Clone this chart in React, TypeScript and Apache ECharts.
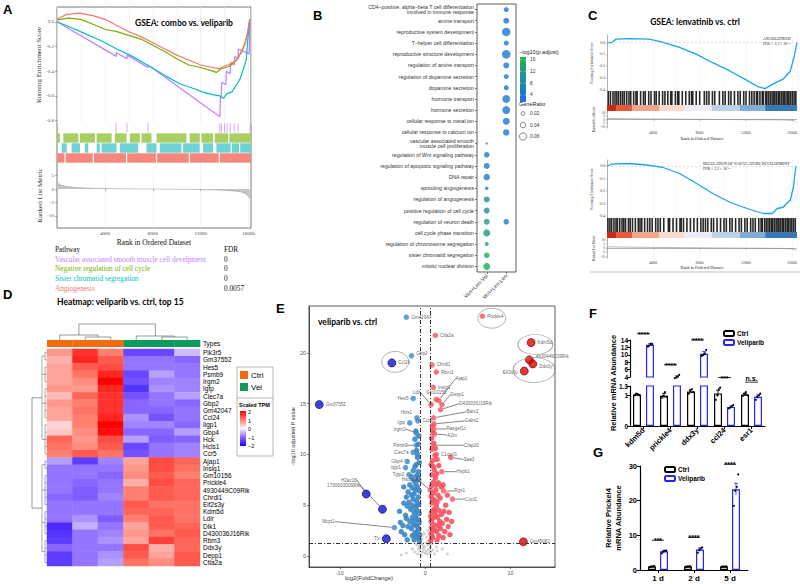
import React, { useEffect, useRef } from "react";
import * as echarts from "echarts";

const SERIF = '"Liberation Serif", "Times New Roman", serif';
const SANS = '"Liberation Sans", Arial, sans-serif';
const HEAD = 'Lato, "Liberation Sans", sans-serif';

// ---------------- Panel A : GSEA combo vs veliparib ----------------
const aPathways = [
  "Vascular associated smooth muscle cell develpment",
  "Negative regulation of cell cycle",
  "Sister chromatid segregation",
  "Angiogenesis",
];
const aFdr = ["0", "0", "0", "0.0057"];
const aCurvePurple = [
  [0, 0], [4950, -0.28], [4960, -0.25], [5850, -0.3], [5860, -0.27], [7600, -0.37], [7610, -0.35],
  [13600, -0.77], [13650, -0.6], [13700, -0.62], [13750, -0.49], [14100, -0.51], [14150, -0.4],
  [14450, -0.42], [14500, -0.33], [14800, -0.35], [14850, -0.28], [15100, -0.3], [15150, -0.22],
  [16050, -0.26], [16100, 0.0],
];
const aCurveGreen = [
  [0, 0.015], [1000, 0.03], [2000, 0.02], [3000, -0.02], [4000, -0.06], [5000, -0.08], [6000, -0.11],
  [7000, -0.14], [8000, -0.19], [9000, -0.24], [10000, -0.3], [11000, -0.35], [12000, -0.37],
  [13000, -0.4], [13300, -0.41], [13700, -0.38], [14400, -0.36], [15000, -0.31], [15500, -0.22],
  [15800, -0.14], [16000, -0.05], [16100, 0.02],
];
const aCurveCyan = [
  [0, 0], [1000, -0.04], [2200, -0.09], [3600, -0.15], [5000, -0.22], [6300, -0.28], [7700, -0.36],
  [9100, -0.44], [10200, -0.5], [11400, -0.54], [12200, -0.57], [13000, -0.59], [13600, -0.6],
  [13900, -0.62], [14200, -0.58], [14600, -0.57], [15000, -0.51], [15300, -0.46], [15500, -0.4],
  [15800, -0.31], [15950, -0.12], [16100, 0.02],
];
const aCurveRed = [
  [0, 0.02], [800, 0.06], [1900, 0.07], [3000, 0.05], [4000, 0.02], [5000, -0.03], [6000, -0.08],
  [7000, -0.12], [8000, -0.17], [9000, -0.22], [10000, -0.27], [11000, -0.31], [12000, -0.35],
  [13000, -0.37], [13500, -0.38], [14000, -0.36], [14500, -0.34], [15000, -0.31], [15400, -0.25],
  [15700, -0.18], [15900, -0.09], [16100, 0.02],
];
const aHitsPurple = [
  [4880, 4960], [5800, 5880], [7560, 7640], [13560, 13640], [13680, 13760], [13950, 14030],
  [14150, 14230], [14420, 14500], [14760, 14840], [15080, 15160], [16080, 16160],
];
const aHitsGreen = [
  [0, 250], [530, 1780], [1920, 3170], [3310, 4560], [4830, 5810], [6080, 6920], [7060, 7890],
  [8310, 10810], [11080, 11920], [12060, 13030], [13170, 14300], [14400, 16200],
];
const aHitsCyan = [
  [390, 810], [1220, 1920], [2330, 2610], [3310, 3580], [3720, 4970], [5250, 6780], [7470, 8310],
  [8580, 10390], [10530, 11920], [12200, 13030], [13310, 14500], [14600, 15200], [15300, 16200],
];
const aHitsRed = [
  [0, 620], [720, 2980], [3080, 5760], [5860, 8260], [8360, 11000], [11100, 13500], [13600, 16200],
];
const aMetric = [
  [0, 3], [100, 2.2], [300, 1.5], [700, 1.0], [1500, 0.6], [3000, 0.3], [5000, 0.1], [8000, 0],
  [11000, -0.1], [13000, -0.3], [14500, -0.6], [15300, -1.0], [15800, -1.8], [16100, -3.5],
];

// ---------------- Panel C : GSEA lenvatinib vs ctrl ----------------
const cAngioES = [
  [0, 0.0], [400, 0.0], [780, 0.03], [1900, 0.035], [3650, 0.03], [4780, 0.005], [6260, -0.04],
  [7740, -0.1], [9130, -0.17], [10600, -0.24], [12090, -0.32], [12960, -0.37], [13650, -0.39],
  [14350, -0.35], [15200, -0.31], [15830, -0.24], [16170, -0.11], [16400, 0.0],
];
const cVascES = [
  [0, 0.0], [430, 0.015], [1900, 0.02], [3200, 0.01], [4780, -0.01], [6260, -0.06], [7740, -0.14],
  [9130, -0.22], [10600, -0.29], [12090, -0.34], [13480, -0.38], [14260, -0.38], [14700, -0.34],
  [15200, -0.33], [15830, -0.27], [16090, -0.17], [16300, 0.0],
];
const cAngioHits = [
  120, 300, 520, 690, 850, 1000, 1180, 1350, 1500, 1700, 1900, 2050, 2300, 2500, 2600, 2900, 3150,
  3300, 3600, 3800, 4100, 4250, 4500, 4800, 5000, 5250, 5500, 5600, 5900, 6100, 6200, 6500, 6800,
  7100, 7300, 7400, 7700, 8000, 8400, 8600, 8800, 9100, 9300, 9700, 10000, 10200, 10500, 10700,
  11000, 11300, 11500, 11800, 12000, 12300, 12500, 12700, 12900, 13000, 13200, 13400, 13500, 13700,
  13800, 13950, 14100, 14250, 14400, 14500, 14650, 14800, 14900, 15050, 15200, 15300, 15450, 15600,
  15700, 15850, 16000, 16150, 16300,
];
const cVascHits = [
  80, 250, 400, 600, 780, 900, 1100, 1300, 1450, 1600, 1850, 2000, 2200, 2450, 2700, 2850, 3000,
  3250, 3500, 3700, 3900, 4200, 4400, 4600, 4900, 5300, 5400, 5700, 6000, 6300, 6400, 6600, 6900,
  7200, 7500, 7800, 8100, 8300, 8500, 8700, 9000, 9200, 9500, 9800, 10100, 10300, 10600, 10800,
  11100, 11400, 11600, 11900, 12100, 12400, 12600, 12800, 13100, 13300, 13400, 13600, 13750, 13900,
  14050, 14200, 14300, 14450, 14600, 14750, 14850, 15000, 15150, 15250, 15400, 15550, 15650, 15800,
  15950, 16100, 16250,
];
const cBandStops = [0, 780, 2170, 4520, 6700, 9040, 11480, 13650, 16400];
const cMetric = [
  [0, 1.5], [2000, 1.0], [4000, 0.7], [8000, 0.2], [12000, -0.2], [15000, -0.5], [16000, -1.0], [16300, -3],
];

// ---------------- Panel B : GO dot plot ----------------
const bTerms = [
  "CD4\u2212positive, alpha\u2212beta T cell differentiation\ninvolved in immune response",
  "amine transport", "reproductive system development", "T\u2212helper cell differentiation",
  "reproductive structure development", "regulation of amine transport",
  "regulation of dopamine secretion", "dopamine secretion", "hormone transport", "hormone secretion",
  "cellular response to metal ion", "cellular response to calcium ion",
  "vascular associated smooth\nmuscle cell proliferation", "regulation of Wnt signaling pathway",
  "regulation of apoptotic signaling pathway", "DNA repair", "sprouting angiogenesis",
  "regulation of angiogenesis", "positive regulation of cell cycle", "regulation of neuron death",
  "cell cycle phase transition", "regulation of chromosome segregation",
  "sister chromatid segregation", "mitotic nuclear division",
];
const bGroups = ["Ven+Len-Vel", "Ven+Len-Len"];
const bVelRatio = [null, null, null, null, null, null, null, null, null, null, null, null,
  0.003, 0.04, 0.045, 0.051, 0.017, 0.045, 0.045, 0.045, 0.057, 0.023, 0.04, 0.057];
const bVelLogP = [null, null, null, null, null, null, null, null, null, null, null, null,
  4, 4.5, 4.8, 5, 6, 9, 9.5, 10, 10.5, 14, 15, 15.5];
const bLenRatio = [0.034, 0.045, 0.074, 0.034, 0.074, 0.045, 0.034, 0.034, 0.068, 0.068, 0.057, 0.051,
  null, null, null, null, null, null, null, 0.04, null, null, null, null];
const bLenLogP = [3.5, 3.6, 3.8, 3.5, 3.8, 3.4, 3.3, 3.3, 4, 4, 3.7, 3.6,
  null, null, null, null, null, null, null, 3.5, null, null, null, null];
const bColorTicks = [16, 12, 8, 4];
const bRatioTicks = [0.02, 0.04, 0.06];

// ---------------- Panel D : heatmap ----------------
const dSamples = ["Ctrl1", "Ctrl2", "Ctrl3", "Vel1", "Vel2", "Vel3"];
const dTypes = ["Ctrl", "Ctrl", "Ctrl", "Vel", "Vel", "Vel"];
const dGenes = [
  "Pik3r5", "Gm37552", "Hes5", "Psmb9", "Irgm2", "Igtp", "Clec7a", "Gbp2", "Gm42047", "Ccl24",
  "Iigp1", "Gbp4", "Hck", "Hcls1", "Ccr5", "Ajap1", "Insig1", "Gm10156", "Prickle4",
  "4930449C09Rik", "Chrdl1", "Eif2s3y", "Kdm5d", "Ldlr", "Dlk1", "D430036J16Rik", "Rbm3", "Ddx3y",
  "Depp1", "Ctla2a",
];
const dValues = [
  [0.8, 1.6, 1.0, -1.3, -1.3, -0.4],
  [0.6, 1.7, 1.3, -0.9, -0.9, -1.0],
  [0.7, 1.3, 1.4, -0.9, -0.9, -0.9],
  [0.7, 1.1, 1.7, -1.3, -0.6, -0.9],
  [0.7, 0.9, 2.0, -1.2, -0.8, -0.8],
  [0.8, 0.8, 1.7, -1.5, -0.7, -0.8],
  [0.5, 1.2, 1.6, -1.2, -0.9, -0.6],
  [0.8, 1.0, 1.6, -1.0, -0.9, -1.0],
  [0.7, 1.1, 1.6, -1.0, -1.0, -0.9],
  [0.7, 1.0, 1.7, -0.7, -1.2, -0.9],
  [0.3, 1.0, 2.0, -0.8, -0.8, -1.0],
  [0.4, 0.9, 1.9, -1.0, -1.0, -0.6],
  [1.2, 0.8, 1.4, -0.6, -1.1, -1.0],
  [1.1, 0.9, 1.3, -1.3, -0.9, -0.8],
  [1.0, 1.3, 1.1, -1.2, -0.9, -0.8],
  [-0.6, -1.4, -0.8, 0.7, 1.4, 1.2],
  [-0.9, -0.9, -0.9, 0.8, 1.4, 1.1],
  [-0.9, -0.9, -1.0, 0.9, 1.3, 1.0],
  [-0.9, -1.0, -0.9, 0.6, 1.4, 1.2],
  [-0.9, -1.1, -0.9, 1.0, 1.3, 1.2],
  [-1.0, -1.1, -0.8, 1.0, 1.3, 1.2],
  [-0.9, -0.9, -0.9, 1.3, 1.1, 1.1],
  [-0.9, -0.9, -0.9, 1.2, 1.2, 1.1],
  [-0.9, -0.7, -1.1, 1.0, 1.3, 1.1],
  [-1.6, -0.5, -0.9, 0.7, 1.3, 1.2],
  [-1.5, -0.9, -0.8, 0.8, 1.1, 1.3],
  [-1.4, -0.9, -0.7, 0.7, 1.5, 1.2],
  [-1.0, -0.9, -0.9, 1.4, 0.6, 1.2],
  [-1.4, -0.9, -0.7, 1.3, 0.7, 1.3],
  [-1.4, -0.9, -0.6, 1.1, 0.9, 1.3],
];
const dRowGroups = [[0, 1], [2, 3, 4], [5, 6, 7, 8, 9], [10, 11, 12, 13, 14],
  [15, 16], [17, 18, 19, 20, 21], [22, 23, 24, 25], [26, 27, 28, 29]];
const dScaleTicks = ["2", "1", "0", "\u22121", "\u22122"];

// ---------------- Panel E : volcano ----------------
const eNamed: [string, number, number, string][] = [
  ["Gm42047", -2.2, 23.5, "down"], ["Prickle4", 6.7, 23.6, "up"], ["Ctla2a", 1.2, 21.7, "up"],
  ["Gbp2", -1.6, 19.7, "down"], ["Ccl24", -3.9, 19.0, "downTop"], ["Chrdl1", 0.8, 18.8, "up"],
  ["Rbm3", 1.3, 18.1, "up"], ["Insig1", 0.95, 16.6, "up"], ["Ajap1", 1.6, 15.3, "up"],
  ["Gm10156", 1.3, 15.4, "up"], ["Ldlr", 0.7, 14.9, "up"], ["Depp1", 1.95, 14.9, "up"],
  ["D430036J16Rik", 1.8, 14.4, "up"], ["Gm37552", -12.4, 14.9, "downTop"], ["Hes5", -1.4, 15.5, "down"],
  ["Hcls1", -0.97, 13.6, "down"], ["Ccr5", -0.86, 13.3, "down"], ["Igtp", -1.8, 13.1, "down"],
  ["Barx2", 1.0, 13.6, "up"], ["Galnt2", 1.05, 13.0, "up"], ["Rasgef1c", 1.0, 12.5, "up"],
  ["A2m", 1.1, 12.0, "up"], ["Irgm2", -1.05, 12.1, "down"], ["Psmb9", -1.05, 10.9, "down"],
  ["Cfap20", 0.95, 10.9, "up"], ["C1qtnf1", 1.3, 10.0, "up"], ["Clec7a", -1.4, 10.2, "down"],
  ["Saa3", 3.0, 9.7, "up"], ["Gbp4", -2.1, 9.3, "down"], ["Iigp1", -2.3, 8.7, "down"],
  ["Hspb1", 1.95, 8.3, "up"], ["Tgtp2", -1.9, 8.0, "down"], ["Hspa1a", 0.6, 6.5, "up"],
  ["Rgs1", 2.15, 6.4, "up"], ["Cxcl2", 3.2, 5.6, "up"], ["H2ac18", -6.9, 6.1, "downTop"],
  ["1700003D09Rik", -5.0, 4.6, "downTop"], ["Mcpt1", -3.6, 2.8, "down"], ["Tlx", -4.55, 1.7, "downTop"],
  ["Kdm5d", 12.4, 21.0, "upTop"], ["4930449C09Rik", 12.2, 19.3, "upTop"], ["Ddx3y", 12.6, 18.9, "upTop"],
  ["Eif2s3y", 11.6, 18.2, "upTop"], ["Gm45062", 11.5, 1.4, "upTop"],
];
const eDownCloud = [
  [-0.7, 1.5], [-0.8, 1.8], [-0.65, 2.1], [-0.9, 2.4], [-0.75, 2.7], [-1.0, 3.0], [-0.7, 3.3], [-0.85, 3.6],
  [-1.1, 3.9], [-0.7, 4.2], [-0.95, 4.5], [-1.2, 4.8], [-0.75, 5.1], [-1.0, 5.4], [-0.8, 5.8], [-1.3, 6.1],
  [-0.7, 6.4], [-0.9, 6.8], [-1.1, 7.1], [-0.75, 7.5], [-1.0, 7.9], [-0.8, 8.3], [-1.2, 8.8], [-0.7, 9.2],
  [-0.9, 9.7], [-1.0, 10.4], [-0.8, 11.0], [-0.75, 11.8], [-1.3, 1.6], [-1.5, 2.0], [-1.2, 2.3], [-1.6, 2.7],
  [-1.4, 3.1], [-1.8, 3.4], [-1.5, 3.8], [-1.3, 4.3], [-1.7, 4.6], [-1.5, 5.0], [-1.9, 5.3], [-1.4, 5.6],
  [-1.6, 6.0], [-2.0, 6.3], [-1.5, 6.7], [-1.8, 7.0], [-1.3, 7.4], [-1.6, 7.8], [-1.4, 8.4], [-2.1, 1.6],
  [-2.4, 2.1], [-2.0, 2.9], [-2.6, 3.0], [-2.2, 3.7], [-2.3, 4.0], [-2.1, 4.9], [-2.5, 5.2], [-2.2, 5.8],
  [-2.5, 6.8], [-2.8, 2.4], [-2.9, 3.3], [-3.0, 4.4], [-1.1, 1.9], [-0.95, 2.9], [-1.25, 3.5], [-0.9, 5.0],
  [-1.15, 6.5], [-0.85, 7.8], [-1.05, 9.0], [-0.9, 10.0], [-1.2, 11.5], [-1.1, 12.3],
];
const eUpCloud = [
  [0.65, 1.5], [0.8, 1.8], [0.7, 2.2], [0.95, 2.5], [0.75, 2.8], [1.05, 3.1], [0.7, 3.4], [0.9, 3.7],
  [1.2, 4.0], [0.75, 4.3], [1.0, 4.6], [1.3, 4.9], [0.8, 5.2], [1.1, 5.5], [0.7, 5.9], [0.95, 6.2],
  [1.25, 6.5], [0.75, 6.9], [1.0, 7.3], [1.2, 7.7], [0.8, 8.0], [1.05, 8.5], [0.7, 9.0], [0.9, 9.4],
  [1.15, 9.9], [0.8, 10.5], [1.0, 11.1], [0.75, 11.6], [0.9, 12.2], [0.85, 12.8], [1.4, 1.6], [1.6, 2.0],
  [1.35, 2.4], [1.8, 2.7], [1.5, 3.0], [1.7, 3.4], [1.45, 3.8], [1.9, 4.1], [1.6, 4.5], [1.4, 5.3],
  [1.75, 5.7], [1.5, 6.0], [1.9, 6.8], [1.55, 7.2], [1.35, 8.1], [1.6, 8.9], [1.4, 9.5], [2.1, 1.8],
  [2.3, 2.4], [2.0, 3.2], [2.5, 3.6], [2.2, 4.4], [2.7, 2.9], [2.4, 5.0], [2.8, 4.3], [2.1, 7.0],
  [2.6, 6.0], [3.1, 3.4], [2.9, 2.1], [0.85, 1.9], [1.1, 2.6], [0.65, 3.9], [1.15, 4.4], [0.85, 5.6],
  [1.3, 7.0], [0.95, 8.8], [1.2, 10.6],
];
const eNsCloud = [
  [-0.5, 0.1], [-0.3, 0.4], [0.2, 0.2], [0.4, 0.6], [-0.1, 0.9], [0.3, 1.1], [-0.4, 1.2], [0.1, 0.5],
  [-0.2, 0.7], [0.5, 0.3], [-0.6, 0.5], [0.6, 0.8], [0.0, 0.3], [-0.7, 0.9], [0.7, 0.4], [-0.9, 0.2],
  [0.9, 0.6], [-1.2, 0.4], [1.1, 0.2], [-1.5, 0.7], [1.4, 0.5], [-2.2, 0.3], [2.0, 0.7], [-2.8, 0.1],
  [2.6, 0.2], [0.2, 1.3], [-0.2, 1.0], [-0.5, 1.4], [0.45, 1.5], [-0.35, 1.7], [0.15, 1.9], [-0.1, 2.2],
  [0.3, 2.5], [-0.4, 2.0], [0.5, 1.2], [-0.6, 1.1], [1.3, 0.9], [-1.0, 1.1], [0.8, 1.2], [-0.8, 0.7],
];
const eCircles = [[7.8, 23.4], [-3.5, 19.1], [12.9, 20.8], [12.75, 18.3]];
const eThresholds = { fc: 0.585, p: 1.3 };

// ---------------- Panel F / G : qPCR ----------------
const fGenes = ["kdm5d", "prickle4", "ddx3y", "ccl24", "esr1"];
const fCtrlMean = [1.02, 0.98, 1.12, 1.06, 1.02];
const fCtrlSem = [0.03, 0.08, 0.06, 0.1, 0.04];
const fVelMean = [12.7, 4.0, 10.3, 0.62, 0.95];
const fVelSem = [0.3, 0.35, 0.6, 0.03, 0.06];
const fCtrlReps = [[1.0, 1.05, 1.02, 1.0], [0.92, 0.98, 1.1, 0.95], [1.05, 1.15, 1.2, 1.1], [0.85, 1.0, 1.2, 1.25], [0.98, 1.05, 1.1, 1.0]];
const fVelReps = [[12.2, 12.5, 13.0, 12.9], [3.7, 3.9, 4.1, 4.6], [9.7, 10.0, 10.4, 11.3], [0.57, 0.6, 0.65, 0.68], [0.85, 0.95, 1.0, 1.05]];
const fSig = ["****", "****", "****", "***", "n.s."];

const gDays = ["1 d", "2 d", "5 d"];
const gCtrlMean = [1.0, 1.0, 1.0];
const gCtrlSem = [0.1, 0.08, 0.05];
const gVelMean = [5.4, 5.9, 23.3];
const gVelSem = [0.3, 0.5, 1.7];
const gCtrlReps = [[0.9, 1.0, 1.05, 1.1], [0.95, 1.0, 1.05, 1.05], [0.95, 1.0, 1.0, 1.05]];
const gVelReps = [[4.8, 5.3, 5.5, 5.6], [5.0, 5.8, 6.2, 6.5], [18.5, 22.8, 24.0, 27.6]];
const gSig = ["***", "****", "****"];

// ------------------------------------------------------------------
function buildOption() {
  const grid: any[] = [];
  const xAxis: any[] = [];
  const yAxis: any[] = [];
  const series: any[] = [];
  const graphic: any[] = [];
  const add = (g: any, x: any, y: any) => {
    grid.push(g);
    const i = grid.length - 1;
    xAxis.push({ gridIndex: i, ...x });
    yAxis.push({ gridIndex: i, ...y });
    return i;
  };
  const plain = (v: number) => String(v);
  const off = { axisLine: { show: false }, axisTick: { show: false }, axisLabel: { show: false }, splitLine: { show: false } };
  const txt = (text: string, x: number, y: number, font: string, fill = "#000", align = "left", vAlign = "middle", extra: any = {}) => ({
    type: "text", x, y, silent: true,
    style: { text, font, fill, align, textAlign: align, verticalAlign: vAlign, textVerticalAlign: vAlign },
    ...extra,
  });
  const line = (x1: number, y1: number, x2: number, y2: number, stroke = "#444", lw = 0.7) => ({
    type: "line", silent: true, shape: { x1, y1, x2, y2 }, style: { stroke, lineWidth: lw },
  });
  const poly = (points: number[][], stroke = "#444", lw = 0.7) => ({
    type: "polyline", silent: true, shape: { points }, style: { stroke, fill: "none", lineWidth: lw },
  });

  // ===== Panel A =====
  const aColors = ["#c77cff", "#7cae00", "#00bfc4", "#f8766d"];
  const aHitColors = ["#d9a6ff", "#a9cf62", "#6fd3d6", "#f7877d"];
  const esTicks = [0, -0.2, -0.4, -0.6, -0.8];
  const gA0 = add({ left: 57, top: 7, width: 194, height: 116 },
    { type: "value", min: 0, max: 16200, interval: 2000, ...off, splitLine: { show: true, lineStyle: { color: "#ececec", width: 0.6 } } },
    {
      type: "value", min: -0.82, max: 0.12, axisLine: { show: false }, splitLine: { show: false },
      axisTick: { show: true, length: 2, customValues: esTicks, lineStyle: { color: "#555", width: 0.5 } },
      axisLabel: { customValues: esTicks, formatter: (v: number) => v.toFixed(1), fontSize: 5, fontFamily: SERIF, color: "#555", margin: 3 },
      name: "Running Enrichment Score", nameLocation: "middle", nameGap: 14,
      nameTextStyle: { fontFamily: SERIF, fontSize: 7, color: "#333" },
    });
  [aCurvePurple, aCurveGreen, aCurveCyan, aCurveRed].forEach((d, i) => series.push({
    type: "line", xAxisIndex: gA0, yAxisIndex: gA0, data: d, showSymbol: false, z: 3,
    lineStyle: { color: aColors[i], width: 1.2 },
  }));
  const gA1 = add({ left: 57, top: 123, width: 194, height: 40 },
    { type: "value", min: 0, max: 16200, ...off },
    { type: "category", data: ["p", "g", "c", "r"], inverse: true, ...off });
  const aHitData: number[][] = [];
  [aHitsPurple, aHitsGreen, aHitsCyan, aHitsRed].forEach((runs, r) => runs.forEach(([s, e]) => aHitData.push([r, s, e])));
  series.push({
    type: "custom", xAxisIndex: gA1, yAxisIndex: gA1, data: aHitData, encode: { x: [1, 2], y: 0 },
    renderItem: (p: any, api: any) => {
      const r = api.value(0);
      const p0 = api.coord([api.value(1), r]);
      const p1 = api.coord([api.value(2), r]);
      const h = api.size([0, 1])[1];
      return { type: "rect", shape: { x: p0[0], y: p0[1] - h / 2 + 0.3, width: Math.max(1, p1[0] - p0[0]), height: h - 0.6 }, style: { fill: aHitColors[r] } };
    },
  });
  const rankTicks = [4000, 8000, 12000, 16000];
  const metTicks = [5, 0, -5, -10];
  const gA2 = add({ left: 57, top: 163, width: 194, height: 65 },
    {
      type: "value", min: 0, max: 16200, interval: 2000, axisLine: { show: false },
      axisTick: { show: true, length: 2, customValues: rankTicks, lineStyle: { color: "#555", width: 0.5 } },
      axisLabel: { customValues: rankTicks, formatter: plain, fontSize: 5, fontFamily: SERIF, color: "#444", margin: 3 },
      splitLine: { show: true, lineStyle: { color: "#ececec", width: 0.6 } },
      name: "Rank in Ordered Dataset", nameLocation: "middle", nameGap: 10,
      nameTextStyle: { fontFamily: SERIF, fontSize: 7.5, color: "#111" },
    },
    {
      type: "value", min: -14.5, max: 9.7, axisLine: { show: false }, splitLine: { show: false },
      axisTick: { show: true, length: 2, customValues: metTicks, lineStyle: { color: "#555", width: 0.5 } },
      axisLabel: { customValues: metTicks, fontSize: 5, fontFamily: SERIF, color: "#555", margin: 3 },
      name: "Ranked List Metric", nameLocation: "middle", nameGap: 14,
      nameTextStyle: { fontFamily: SERIF, fontSize: 7, color: "#333" },
    });
  series.push({
    type: "line", xAxisIndex: gA2, yAxisIndex: gA2, data: aMetric, showSymbol: false,
    lineStyle: { color: "#9a9a9a", width: 0.5 }, areaStyle: { color: "#c4c4c4", opacity: 1 },
  });
  graphic.push({ type: "rect", silent: true, shape: { x: 57, y: 7, width: 194, height: 221 }, style: { fill: "none", stroke: "#555", lineWidth: 0.8 } });
  graphic.push(txt("A", 3, 9, 'bold 13px "Liberation Sans"'));
  graphic.push(txt("GSEA: combo vs. veliparib", 135, 23, `bold 8.5px ${HEAD}`));
  graphic.push(txt("Pathway", 55, 249, `7.3px ${SERIF}`, "#111"));
  graphic.push(txt("FDR", 224, 249, `7.3px ${SERIF}`, "#111"));
  aPathways.forEach((p, i) => {
    graphic.push(txt(p, 55, 259 + i * 9.7, `7.3px ${SERIF}`, aColors[i]));
    graphic.push(txt(aFdr[i], 224, 259 + i * 9.7, `7.3px ${SERIF}`, "#111"));
  });

  // ===== Panel C =====
  const cBandColors = ["#c92a1e", "#e8593b", "#f3a58a", "#f9d9cc", "#ececf4", "#bcd1e7", "#7fadd6", "#3a78b5"];
  const cBandData = cBandColors.map((c, i) => [cBandStops[i], cBandStops[i + 1], i]);
  const makeGsea = (top: number, esMin: number, esMax: number, esH: number, metH: number, es: number[][], hits: number[], title: string, titleX: number, nameGap: number) => {
    const esTicksC = [0, -0.1, -0.2, -0.3, -0.4];
    const gEs = add({ left: 607, top, width: 190, height: esH },
      { type: "value", min: 0, max: 16400, interval: 2000, ...off, splitLine: { show: true, lineStyle: { color: "#efefef", width: 0.5 } } },
      {
        type: "value", min: esMin, max: esMax, splitLine: { show: false },
        axisLine: { show: true, lineStyle: { color: "#666", width: 0.5 } },
        axisTick: { show: true, length: 1.5, customValues: esTicksC, lineStyle: { color: "#666", width: 0.4 } },
        axisLabel: { customValues: esTicksC, formatter: (v: number) => v.toFixed(1), fontSize: 3.8, fontFamily: SERIF, color: "#444", margin: 2 },
        name: "Running Enrichment Score", nameLocation: "middle", nameGap: 13,
        nameTextStyle: { fontFamily: SERIF, fontSize: 3.8, color: "#333" },
      });
    series.push({
      type: "line", xAxisIndex: gEs, yAxisIndex: gEs, data: es, showSymbol: false,
      lineStyle: { color: "#1aa3f0", width: 1.3 },
      markLine: { silent: true, symbol: "none", label: { show: false }, lineStyle: { color: "#bbb", type: [2, 2], width: 0.5 }, data: [{ yAxis: 0 }] },
    });
    const gHit = add({ left: 607, top: top + esH, width: 190, height: 14 },
      { type: "value", min: 0, max: 16400, ...off },
      { type: "value", min: 0, max: 1, ...off, axisLine: { show: true, lineStyle: { color: "#666", width: 0.5 } } });
    series.push({
      type: "custom", xAxisIndex: gHit, yAxisIndex: gHit, data: hits.map((h) => [h]), encode: { x: 0 },
      renderItem: (p: any, api: any) => {
        const a = api.coord([api.value(0), 1]);
        const b = api.coord([api.value(0), 0]);
        return { type: "rect", shape: { x: a[0] - 0.8, y: a[1], width: 1.6, height: b[1] - a[1] }, style: { fill: "#111", opacity: 0.9 } };
      },
    });
    const gBand = add({ left: 607, top: top + esH + 14, width: 190, height: 6 },
      { type: "value", min: 0, max: 16400, ...off },
      { type: "value", min: 0, max: 1, ...off });
    series.push({
      type: "custom", xAxisIndex: gBand, yAxisIndex: gBand, data: cBandData, encode: { x: [0, 1] },
      renderItem: (p: any, api: any) => {
        const a = api.coord([api.value(0), 1]);
        const b = api.coord([api.value(1), 0]);
        return { type: "rect", shape: { x: a[0], y: a[1], width: b[0] - a[0], height: b[1] - a[1] }, style: { fill: cBandColors[api.value(2)] } };
      },
    });
    const cMetTicks = [10, 5, 0, -5, -10];
    const gMet = add({ left: 607, top: top + esH + 20, width: 190, height: metH },
      {
        type: "value", min: 0, max: 16400, interval: 2000,
        axisLine: { show: true, lineStyle: { color: "#666", width: 0.5 } },
        axisTick: { show: true, length: 1.5, customValues: rankTicks, lineStyle: { color: "#666", width: 0.4 } },
        axisLabel: { customValues: rankTicks, formatter: plain, fontSize: 4, fontFamily: SERIF, color: "#444", margin: 2 },
        splitLine: { show: true, lineStyle: { color: "#efefef", width: 0.5 } },
        name: "Rank in Ordered Dataset", nameLocation: "middle", nameGap: nameGap,
        nameTextStyle: { fontFamily: SERIF, fontSize: 4.3, color: "#222" },
      },
      {
        type: "value", min: -12, max: 12, splitLine: { show: false },
        axisLine: { show: true, lineStyle: { color: "#666", width: 0.5 } },
        axisTick: { show: true, length: 1.5, customValues: cMetTicks, lineStyle: { color: "#666", width: 0.4 } },
        axisLabel: { customValues: cMetTicks, fontSize: 3.3, fontFamily: SERIF, color: "#444", margin: 2 },
        name: "Ranked List Metric", nameLocation: "middle", nameGap: 12,
        nameTextStyle: { fontFamily: SERIF, fontSize: 3.3, color: "#333" },
      });
    series.push({
      type: "line", xAxisIndex: gMet, yAxisIndex: gMet, data: cMetric, showSymbol: false,
      lineStyle: { color: "#888", width: 0.6 },
    });
    graphic.push(txt(title, titleX, top + 3.5, `3.8px ${SERIF}`, "#222"));
    graphic.push(txt("FDR < 2.2 \u00d7 10\u207b\u00b9\u2076", titleX, top + 8.5, `3.8px ${SERIF}`, "#222"));
  };
  makeGsea(35, -0.41, 0.065, 56, 17, cAngioES, cAngioHits, "ANGIOGENESIS", 763, 8);
  makeGsea(160, -0.416, 0.048, 58, 20, cVascES, cVascHits, "REGULATION OF VASCULATURE DEVELOPMENT", 703, 7);
  graphic.push(txt("C", 588, 15, 'bold 13px "Liberation Sans"'));
  graphic.push(txt("GSEA: lenvatinib vs. ctrl", 695, 22, `bold 8.5px ${HEAD}`, "#000", "center"));
  graphic.push(line(590, 272, 800, 272, "#9a9a9a", 0.6));

  // ===== Panel B =====
  const gB = add({ left: 477, top: 4, width: 39, height: 268, show: true, borderColor: "#333", borderWidth: 0.8 },
    {
      type: "category", data: bGroups, axisLine: { show: false },
      axisTick: { show: true, length: 2, alignWithLabel: true, lineStyle: { color: "#333", width: 0.6 } },
      axisLabel: { rotate: 45, fontSize: 5.5, fontFamily: SANS, color: "#333", interval: 0, margin: 3 },
    },
    {
      type: "category", data: bTerms, inverse: true, axisLine: { show: false },
      axisTick: { show: true, length: 2, alignWithLabel: true, lineStyle: { color: "#333", width: 0.6 } },
      axisLabel: { fontSize: 5.2, fontFamily: SANS, color: "#333", interval: 0, margin: 3, lineHeight: 5.6 },
    });
  const bData: number[][] = [];
  bTerms.forEach((t, i) => {
    if (bVelRatio[i] != null) bData.push([0, i, bVelRatio[i] as number, bVelLogP[i] as number]);
    if (bLenRatio[i] != null) bData.push([1, i, bLenRatio[i] as number, bLenLogP[i] as number]);
  });
  const bSize = (r: number) => 2 + 88 * r;
  const bSeriesIdx = series.length;
  series.push({
    type: "scatter", xAxisIndex: gB, yAxisIndex: gB, data: bData, symbolSize: (v: number[]) => bSize(v[2]),
    encode: { x: 0, y: 1 },
  });
  graphic.push(txt("B", 313, 15, 'bold 13px "Liberation Sans"'));
  const lgX = 519;
  graphic.push(txt("\u2212log10(p.adjust)", lgX, 52, `5.5px ${SANS}`, "#222"));
  const cbTop = 57, cbH = 45;
  graphic.push({
    type: "rect", silent: true, shape: { x: lgX + 1, y: cbTop, width: 6, height: cbH },
    style: { fill: new echarts.graphic.LinearGradient(0, 0, 0, 1, [{ offset: 0, color: "#21b34a" }, { offset: 0.5, color: "#1e8fa0" }, { offset: 1, color: "#1b6fe3" }]) },
  });
  bColorTicks.forEach((v) => {
    const y = cbTop + ((17 - v) / 15.4) * cbH;
    graphic.push(line(lgX + 1, y, lgX + 2.5, y, "#fff", 0.5));
    graphic.push(line(lgX + 5.5, y, lgX + 7, y, "#fff", 0.5));
    graphic.push(txt(String(v), lgX + 11, y, `4.8px ${SANS}`, "#333"));
  });
  graphic.push(txt("GeneRatio", lgX, 104, `5.5px ${SANS}`, "#222"));
  bRatioTicks.forEach((r, i) => {
    const y = 113.5 + i * 11.5;
    graphic.push({ type: "circle", silent: true, shape: { cx: lgX + 4, cy: y, r: bSize(r) / 2 }, style: { fill: "none", stroke: "#333", lineWidth: 0.6 } });
    graphic.push(txt(r.toFixed(2), lgX + 11, y, `4.8px ${SANS}`, "#333"));
  });

  // ===== Panel D =====
  const typeColors: Record<string, string> = { Ctrl: "#f26b10", Vel: "#0c9b5a" };
  const gDT = add({ left: 47, top: 340, width: 153, height: 7 },
    { type: "category", data: dSamples, ...off },
    { type: "category", data: ["Types"], position: "right", axisLine: { show: false }, axisTick: { show: false }, axisLabel: { fontSize: 6.5, fontFamily: SANS, color: "#000", margin: 3 } });
  series.push({
    type: "custom", xAxisIndex: gDT, yAxisIndex: gDT, data: dTypes.map((t, i) => [i, 0]), encode: { x: 0, y: 1 },
    renderItem: (p: any, api: any) => {
      const c = api.coord([api.value(0), 0]);
      const s = api.size([1, 1]);
      return { type: "rect", shape: { x: c[0] - s[0] / 2, y: c[1] - s[1] / 2, width: s[0] + 0.3, height: s[1] }, style: { fill: typeColors[dTypes[api.value(0)]] } };
    },
  });
  const gDH = add({ left: 47, top: 349, width: 153, height: 217 },
    { type: "category", data: dSamples, ...off },
    { type: "category", data: dGenes, inverse: true, position: "right", axisLine: { show: false }, axisTick: { show: false }, axisLabel: { fontSize: 6.5, fontFamily: SANS, color: "#000", margin: 3, interval: 0 } });
  const heatData: number[][] = [];
  dValues.forEach((row, r) => row.forEach((v, c) => heatData.push([c, r, v])));
  const dSeriesIdx = series.length;
  series.push({ type: "heatmap", xAxisIndex: gDH, yAxisIndex: gDH, data: heatData });
  const rowY = (i: number) => 349 + (217 / 30) * (i + 0.5);
  const colX = (c: number) => 47 + 25.5 * (c + 0.5);
  const groupCenters: number[] = [];
  dRowGroups.forEach((g) => {
    const ys = g.map(rowY);
    g.forEach((r) => graphic.push(line(45, rowY(r), 47, rowY(r), "#555", 0.5)));
    graphic.push(line(45, ys[0], 45, ys[ys.length - 1], "#555", 0.5));
    groupCenters.push((ys[0] + ys[ys.length - 1]) / 2);
  });
  const clusterY: number[] = [];
  [[0, 4], [4, 8]].forEach(([a, b]) => {
    const cs = groupCenters.slice(a, b);
    cs.forEach((y) => graphic.push(line(42, y, 45, y, "#555", 0.5)));
    graphic.push(line(42, cs[0], 42, cs[cs.length - 1], "#555", 0.5));
    clusterY.push((cs[0] + cs[cs.length - 1]) / 2);
  });
  graphic.push(poly([[42, clusterY[0]], [32, clusterY[0]], [32, clusterY[1]], [42, clusterY[1]]], "#555", 0.6));
  graphic.push(poly([[colX(1), 340], [colX(1), 337], [colX(2), 337], [colX(2), 340]], "#555", 0.6));
  graphic.push(poly([[colX(0), 340], [colX(0), 335], [(colX(1) + colX(2)) / 2, 335], [(colX(1) + colX(2)) / 2, 337]], "#555", 0.6));
  graphic.push(poly([[colX(4), 340], [colX(4), 337], [colX(5), 337], [colX(5), 340]], "#555", 0.6));
  graphic.push(poly([[colX(3), 340], [colX(3), 336], [(colX(4) + colX(5)) / 2, 336], [(colX(4) + colX(5)) / 2, 337]], "#555", 0.6));
  const ctrlTop = (colX(0) + (colX(1) + colX(2)) / 2) / 2;
  const velTop = (colX(3) + (colX(4) + colX(5)) / 2) / 2;
  graphic.push(poly([[ctrlTop, 335], [ctrlTop, 324], [velTop, 324], [velTop, 336]], "#555", 0.6));
  graphic.push(txt("D", 3, 294, 'bold 13px "Liberation Sans"'));
  graphic.push(txt("Heatmap: veliparib vs. ctrl, top 15", 57, 302, `bold 8.5px ${HEAD}`));
  graphic.push({ type: "rect", silent: true, shape: { x: 237, y: 367, width: 36, height: 89 }, style: { fill: "#fff", stroke: "#888", lineWidth: 0.6 } });
  ["Ctrl", "Vel"].forEach((t, i) => {
    graphic.push({ type: "rect", silent: true, shape: { x: 240, y: 371 + i * 12, width: 8, height: 8 }, style: { fill: typeColors[t] } });
    graphic.push(txt(t, 251, 375.5 + i * 12, `8px ${SANS}`, "#000"));
  });
  graphic.push(line(237, 398, 273, 398, "#888", 0.6));
  graphic.push(txt("Scaled TPM", 239, 405, `bold 5.5px ${SANS}`, "#000"));
  graphic.push({
    type: "rect", silent: true, shape: { x: 240, y: 411, width: 6, height: 35 },
    style: { fill: new echarts.graphic.LinearGradient(0, 0, 0, 1, [{ offset: 0, color: "#ff0000" }, { offset: 0.25, color: "#ff8070" }, { offset: 0.5, color: "#fbf7ff" }, { offset: 0.75, color: "#8866ff" }, { offset: 1, color: "#2200ff" }]) },
  });
  dScaleTicks.forEach((t, i) => graphic.push(txt(t, 248, 412 + i * 8.5, `5.5px ${SANS}`, "#000")));

  // ===== Panel E =====
  const xTicksE = [-10, 0, 10];
  const yTicksE = [0, 5, 10, 15, 20];
  const gE = add({ left: 309, top: 306, width: 246, height: 261, show: true, borderColor: "#333", borderWidth: 0.8 },
    {
      type: "value", min: -13.6, max: 15.2, splitLine: { show: false },
      axisLine: { show: true, onZero: false, lineStyle: { color: "#333", width: 0.8 } },
      axisTick: { show: true, length: 2, customValues: xTicksE, lineStyle: { color: "#333", width: 0.6 } },
      axisLabel: { customValues: xTicksE, fontSize: 5.5, fontFamily: SANS, color: "#555", margin: 3 },
    },
    {
      type: "value", min: -1.08, max: 24.6, splitLine: { show: false },
      axisLine: { show: true, onZero: false, lineStyle: { color: "#333", width: 0.8 } },
      axisTick: { show: true, length: 2, customValues: yTicksE, lineStyle: { color: "#333", width: 0.6 } },
      axisLabel: { customValues: yTicksE, fontSize: 5.5, fontFamily: SANS, color: "#555", margin: 3 },
      name: "\u2212log10 adjusted P value", nameLocation: "middle", nameGap: 11,
      nameTextStyle: { fontFamily: SANS, fontSize: 5.5, color: "#333" },
    });
  series.push({
    type: "scatter", xAxisIndex: gE, yAxisIndex: gE, data: eNsCloud, symbolSize: 3,
    itemStyle: { color: "#c6c6c6" }, z: 2,
    markLine: {
      silent: true, symbol: "none", label: { show: false },
      lineStyle: { color: "#333", type: [4, 2, 1, 2], width: 1 },
      data: [{ xAxis: -eThresholds.fc }, { xAxis: eThresholds.fc }, { yAxis: eThresholds.p }],
    },
  });
  series.push({ type: "scatter", xAxisIndex: gE, yAxisIndex: gE, data: eDownCloud, symbolSize: 5.5, itemStyle: { color: "#3b86c6", opacity: 0.9 }, z: 3 });
  series.push({ type: "scatter", xAxisIndex: gE, yAxisIndex: gE, data: eUpCloud, symbolSize: 5.5, itemStyle: { color: "#f6525f", opacity: 0.9 }, z: 3 });
  const kindStyle: Record<string, any> = {
    down: { size: 5.5, color: "#3b86c6", border: "#3b86c6" },
    up: { size: 5.5, color: "#f6525f", border: "#f6525f" },
    downTop: { size: 8, color: "#1212d8", border: "#000050" },
    upTop: { size: 8, color: "#e00000", border: "#600000" },
  };
  const place: Record<string, [string, number, number, boolean]> = {
    Ajap1: ["right", 12, -22, true], Gm10156: ["top", 0, 0, false], Ldlr: ["left", -6, -12, true],
    Depp1: ["right", 4, -10, true], D430036J16Rik: ["right", 14, -6, true], Hes5: ["left", 0, 0, false],
    Hcls1: ["left", 0, -5, false], Igtp: ["left", 0, 0, false], Barx2: ["right", 28, -6, true],
    Galnt2: ["right", 26, -3, true], Rasgef1c: ["right", 8, 0, true], A2m: ["right", 8, 1, true],
    Irgm2: ["left", -6, -4, true], Psmb9: ["left", -4, 0, true], Cfap20: ["right", 26, 0, true],
    Clec7a: ["left", 0, 0, false], Saa3: ["right", 8, 2, true], Gbp4: ["left", 0, 0, false],
    Iigp1: ["left", 0, 0, false], Hspb1: ["right", 10, 0, true], Tgtp2: ["left", 0, 0, false],
    Hspa1a: ["left", -8, -10, true], Rgs1: ["right", 6, 0, true], Cxcl2: ["right", 8, 0, true],
    H2ac18: ["left", -3, -14, true], "1700003D09Rik": ["left", -16, -24, true], Mcpt1: ["left", -55, -6, true],
    Tlx: ["left", 0, 0, false], Gbp2: ["right", 0, -2, false], "4930449C09Rik": ["right", 0, -3, false],
    Ddx3y: ["right", 0, 3, false], Eif2s3y: ["left", 0, 1, false],
  };
  const mkItem = (n: [string, number, number, string]) => {
    const s = kindStyle[n[3]];
    const pl = place[n[0]] || ["right", 0, 0, false];
    return {
      name: n[0], value: [n[1], n[2]], symbolSize: s.size,
      itemStyle: { color: s.color, borderColor: s.border, borderWidth: n[3].endsWith("Top") ? 0.8 : 0 },
      label: { position: pl[0] },
    };
  };
  const withLine = eNamed.filter((n) => place[n[0]] && place[n[0]][3]);
  const noLine = eNamed.filter((n) => !(place[n[0]] && place[n[0]][3]));
  const labelBase = { show: true, formatter: "{b}", fontSize: 4.6, fontFamily: SANS, color: "#333", distance: 2 };
  series.push({
    type: "scatter", xAxisIndex: gE, yAxisIndex: gE, data: noLine.map(mkItem), z: 4,
    label: labelBase,
    labelLayout: (p: any) => { const pl = place[noLine[p.dataIndex][0]]; return pl ? { dx: pl[1], dy: pl[2] } : {}; },
  });
  series.push({
    type: "scatter", xAxisIndex: gE, yAxisIndex: gE, data: withLine.map(mkItem), z: 4,
    label: labelBase,
    labelLine: { show: true, lineStyle: { color: "#333", width: 0.6 } },
    labelLayout: (p: any) => { const pl = place[withLine[p.dataIndex][0]]; return { dx: pl[1], dy: pl[2] }; },
  });
  const circleSizes = [[28, 20], [27, 21], [35, 20], [42, 25]];
  series.push({
    type: "scatter", xAxisIndex: gE, yAxisIndex: gE, z: 5, silent: true,
    data: eCircles.map((c, i) => ({ value: c, symbolSize: circleSizes[i] })),
    itemStyle: { color: "rgba(0,0,0,0)", borderColor: "#8a8a8a", borderWidth: 0.8 },
  });
  graphic.push(txt("E", 276, 308, 'bold 13px "Liberation Sans"'));
  graphic.push(txt("veliparib vs. ctrl", 318, 322, `bold 8.5px ${HEAD}`));
  graphic.push(txt("log2(FoldChange)", 369, 578, `6px ${SANS}`, "#333", "center"));

  // ===== Panel F =====
  const ctrlStyle = { color: "#fff", borderColor: "#000", borderWidth: 1.2 };
  const velStyle = { color: "#fff", borderColor: "#2323ff", borderWidth: 1.2 };
  const boldLbl = { fontFamily: SANS, fontWeight: "bold", color: "#000" };
  const gF1 = add({ left: 630, top: 340, width: 135, height: 37 },
    { type: "category", data: fGenes, ...off },
    {
      type: "value", min: 4, max: 14, interval: 2, splitLine: { show: false },
      axisLine: { show: true, lineStyle: { color: "#000", width: 1.2 } },
      axisTick: { show: true, length: 3, lineStyle: { color: "#000", width: 1 } },
      axisLabel: { fontSize: 6.5, margin: 2, ...boldLbl },
    });
  const gF2 = add({ left: 630, top: 386, width: 135, height: 40 },
    {
      type: "category", data: fGenes,
      axisLine: { show: true, lineStyle: { color: "#000", width: 1.2 } },
      axisTick: { show: true, length: 3, alignWithLabel: true, lineStyle: { color: "#000", width: 1 } },
      axisLabel: { rotate: 45, fontSize: 7.5, margin: 3, interval: 0, ...boldLbl },
    },
    {
      type: "value", min: 0, max: 1.3, interval: 1, splitLine: { show: false },
      axisLine: { show: true, lineStyle: { color: "#000", width: 1.2 } },
      axisTick: { show: true, length: 3, lineStyle: { color: "#000", width: 1 } },
      axisLabel: { fontSize: 6.5, margin: 2, ...boldLbl },
    });
  [gF1, gF2].forEach((gi) => {
    series.push({ type: "bar", name: "Ctrl", xAxisIndex: gi, yAxisIndex: gi, data: fCtrlMean, barWidth: 8, barGap: "62%", itemStyle: ctrlStyle });
    series.push({ type: "bar", name: "Veliparib", xAxisIndex: gi, yAxisIndex: gi, data: fVelMean, barWidth: 8, barGap: "62%", itemStyle: velStyle });
  });
  const jitter = [-2.2, -0.8, 0.8, 2.2];
  const makeErr = (gi: number, means: number[][], sems: number[][], reps: number[][][], offs: number[], lo: number, hi: number) => {
    const data: number[][] = [];
    means.forEach((arr, g) => arr.forEach((m, c) => { if (m >= lo && m < hi) data.push([c, m, sems[g][c], g]); }));
    return {
      type: "custom", xAxisIndex: gi, yAxisIndex: gi, data, encode: { x: 0, y: 1 }, z: 5,
      renderItem: (p: any, api: any) => {
        const c = api.value(0), m = api.value(1), s = api.value(2), g = api.value(3);
        const x = api.coord([c, m])[0] + offs[g];
        const yt = api.coord([c, m + s])[1];
        const yb = api.coord([c, m - s])[1];
        const col = g === 0 ? "#000" : "#2323ff";
        const children: any[] = [
          { type: "line", shape: { x1: x, y1: yt, x2: x, y2: yb }, style: { stroke: col, lineWidth: 0.8 } },
          { type: "line", shape: { x1: x - 2, y1: yt, x2: x + 2, y2: yt }, style: { stroke: col, lineWidth: 0.8 } },
        ];
        reps[g][c].forEach((v: number, k: number) => {
          const q = api.coord([c, v]);
          children.push({ type: "circle", shape: { cx: x + jitter[k], cy: q[1], r: 1 }, style: { fill: "#000" } });
        });
        return { type: "group", children };
      },
    };
  };
  series.push(makeErr(gF1, [fCtrlMean, fVelMean], [fCtrlSem, fVelSem], [fCtrlReps, fVelReps], [-6.5, 6.5], 3.9, Infinity));
  series.push(makeErr(gF2, [fCtrlMean, fVelMean], [fCtrlSem, fVelSem], [fCtrlReps, fVelReps], [-6.5, 6.5], -Infinity, 1.3));
  const makeSig = (gi: number, cats: number[], tops: number[], labels: string[], half: number) => ({
    type: "custom", xAxisIndex: gi, yAxisIndex: gi, data: cats.map((c, i) => [c, tops[i]]), encode: { x: 0, y: 1 }, z: 6,
    renderItem: (p: any, api: any) => {
      const c = api.value(0);
      const pt = api.coord([c, api.value(1)]);
      const ly = pt[1] - 10;
      const lab = labels[c];
      const ty = lab.startsWith("*") ? ly + 4 : ly - 0.5;
      return {
        type: "group", children: [
          { type: "text", style: { text: lab, x: pt[0], y: ty, align: "center", textAlign: "center", verticalAlign: "bottom", textVerticalAlign: "bottom", font: `bold 7px ${SANS}`, fill: "#000" } },
          { type: "line", shape: { x1: pt[0] - half, y1: ly, x2: pt[0] + half, y2: ly }, style: { stroke: "#000", lineWidth: 0.8 } },
        ],
      };
    },
  });
  const fTops = fGenes.map((g, i) => Math.max(...fCtrlReps[i], ...fVelReps[i], fVelMean[i] + fVelSem[i], fCtrlMean[i] + fCtrlSem[i]));
  const fUpCats = fGenes.map((g, i) => i).filter((i) => fVelMean[i] >= 3.9);
  const fLoCats = fGenes.map((g, i) => i).filter((i) => fVelMean[i] < 3.9);
  series.push(makeSig(gF1, fUpCats, fUpCats.map((i) => fTops[i]), fSig, 6.5));
  series.push(makeSig(gF2, fLoCats, fLoCats.map((i) => fTops[i]), fSig, 6.5));
  graphic.push(txt("F", 589, 313, 'bold 13px "Liberation Sans"'));
  graphic.push(txt("Relative mRNA Abundance", 613, 383, `bold 7.5px ${SANS}`, "#000", "center", "middle", { rotation: Math.PI / 2 }));

  // ===== Panel G =====
  const gG = add({ left: 640, top: 466, width: 108, height: 104 },
    {
      type: "category", data: gDays,
      axisLine: { show: true, lineStyle: { color: "#000", width: 1.2 } },
      axisTick: { show: true, length: 3, alignWithLabel: true, lineStyle: { color: "#000", width: 1 } },
      axisLabel: { fontSize: 8, margin: 4, ...boldLbl },
    },
    {
      type: "value", min: 0, max: 30, interval: 10, splitLine: { show: false },
      axisLine: { show: true, lineStyle: { color: "#000", width: 1.2 } },
      axisTick: { show: true, length: 3, lineStyle: { color: "#000", width: 1 } },
      axisLabel: { fontSize: 7.5, margin: 3, ...boldLbl },
      name: "Relative Prickel4\nmRNA Abundance", nameLocation: "middle", nameGap: 17,
      nameTextStyle: { fontSize: 7.5, lineHeight: 10, ...boldLbl },
    });
  series.push({ type: "bar", name: "Ctrl", xAxisIndex: gG, yAxisIndex: gG, data: gCtrlMean, barWidth: 8, barGap: "50%", itemStyle: ctrlStyle });
  series.push({ type: "bar", name: "Veliparib", xAxisIndex: gG, yAxisIndex: gG, data: gVelMean, barWidth: 8, barGap: "50%", itemStyle: velStyle });
  series.push(makeErr(gG, [gCtrlMean, gVelMean], [gCtrlSem, gVelSem], [gCtrlReps, gVelReps], [-6, 6], -Infinity, Infinity));
  const gTops = gDays.map((d, i) => Math.max(...gCtrlReps[i], ...gVelReps[i], gVelMean[i] + gVelSem[i]));
  series.push(makeSig(gG, gDays.map((d, i) => i), gTops, gSig, 6));
  graphic.push(txt("G", 593, 452, 'bold 13px "Liberation Sans"'));

  return {
    animation: false,
    backgroundColor: "#fff",
    textStyle: { fontFamily: SANS },
    grid, xAxis, yAxis, series, graphic,
    legend: [
      { left: 718, top: 325, orient: "vertical", itemWidth: 10, itemHeight: 5, itemGap: 2, selectedMode: false, data: ["Ctrl", "Veliparib"], textStyle: { fontSize: 6.5, ...boldLbl, padding: [0, 0, 0, -2] } },
      { left: 659, top: 461, orient: "vertical", itemWidth: 10, itemHeight: 5, itemGap: 2, selectedMode: false, data: ["Ctrl", "Veliparib"], textStyle: { fontSize: 6.5, ...boldLbl, padding: [0, 0, 0, -2] } },
    ],
    visualMap: [
      { type: "continuous", show: false, seriesIndex: bSeriesIdx, dimension: 3, min: 2, max: 17, inRange: { color: ["#1b6fe3", "#21b34a"] } },
      { type: "continuous", show: false, seriesIndex: dSeriesIdx, dimension: 2, min: -2, max: 2, inRange: { color: ["#2200ff", "#8866ff", "#fbf7ff", "#ff8070", "#ff0000"] } },
    ],
  };
}

export default function App() {
  const ref = useRef<HTMLDivElement>(null);
  useEffect(() => {
    if (!ref.current) return;
    const chart = echarts.init(ref.current, null, { renderer: "svg" });
    chart.setOption(buildOption() as any);
    return () => chart.dispose();
  }, []);
  return <div ref={ref} style={{ position: "fixed", left: 0, top: 0, width: 800, height: 584, background: "#fff" }} />;
}
